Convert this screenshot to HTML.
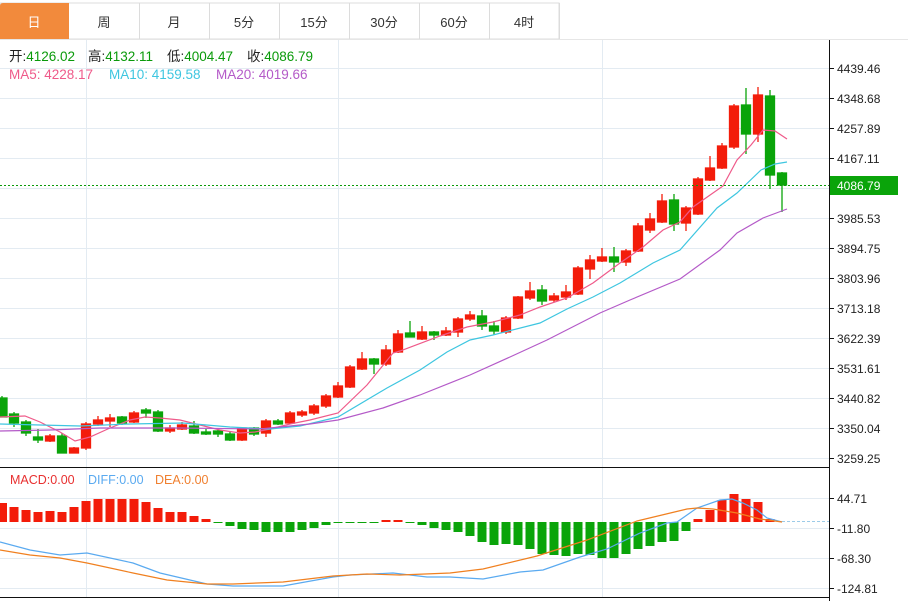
<!DOCTYPE html>
<html><head><meta charset="utf-8"><style>
html,body{margin:0;padding:0;background:#fff;width:908px;height:601px;overflow:hidden;font-family:"Liberation Sans","Noto Sans CJK SC",sans-serif}
svg{display:block}
</style></head><body>
<svg width="908" height="601" viewBox="0 0 908 601" xmlns="http://www.w3.org/2000/svg" font-family="Liberation Sans, Noto Sans CJK SC, sans-serif">
<rect x="0" y="3" width="559" height="36" fill="#fff" stroke="#dcdcdc"/>
<path d="M3,3 H69 V39 H0 V6 Q0,3 3,3Z" fill="#f28a3c"/>
<g stroke="#dcdcdc"><line x1="139.5" y1="3" x2="139.5" y2="39"/><line x1="209.5" y1="3" x2="209.5" y2="39"/><line x1="279.5" y1="3" x2="279.5" y2="39"/><line x1="349.5" y1="3" x2="349.5" y2="39"/><line x1="419.5" y1="3" x2="419.5" y2="39"/><line x1="489.5" y1="3" x2="489.5" y2="39"/><line x1="559.5" y1="3" x2="559.5" y2="39"/></g>
<line x1="0" y1="39.5" x2="908" y2="39.5" stroke="#e6e6e6"/>
<g font-size="13" text-anchor="middle" fill="#333">
<text x="34" y="27" fill="#fff">日</text><text x="104" y="27">周</text><text x="174" y="27">月</text><text x="244" y="27">5分</text><text x="314" y="27">15分</text><text x="384" y="27">30分</text><text x="454" y="27">60分</text><text x="524" y="27">4时</text>
</g>
<g stroke="#e3ebf2" stroke-width="1">
<line x1="86.5" y1="40" x2="86.5" y2="598"/><line x1="338.5" y1="40" x2="338.5" y2="598"/><line x1="602.5" y1="40" x2="602.5" y2="598"/>
<line x1="0" y1="68.5" x2="829" y2="68.5"/><line x1="0" y1="98.5" x2="829" y2="98.5"/><line x1="0" y1="128.5" x2="829" y2="128.5"/><line x1="0" y1="158.5" x2="829" y2="158.5"/><line x1="0" y1="188.5" x2="829" y2="188.5"/><line x1="0" y1="218.5" x2="829" y2="218.5"/><line x1="0" y1="248.5" x2="829" y2="248.5"/><line x1="0" y1="278.5" x2="829" y2="278.5"/><line x1="0" y1="308.5" x2="829" y2="308.5"/><line x1="0" y1="338.5" x2="829" y2="338.5"/><line x1="0" y1="368.5" x2="829" y2="368.5"/><line x1="0" y1="398.5" x2="829" y2="398.5"/><line x1="0" y1="428.5" x2="829" y2="428.5"/><line x1="0" y1="458.5" x2="829" y2="458.5"/>
<line x1="0" y1="498.5" x2="829" y2="498.5"/><line x1="0" y1="528.5" x2="829" y2="528.5"/><line x1="0" y1="558.5" x2="829" y2="558.5"/><line x1="0" y1="588.5" x2="829" y2="588.5"/>
</g>
<g font-size="13.5">
<text x="9" y="61" fill="#222">开:<tspan fill="#0a9a0a">4126.02</tspan></text>
<text x="88" y="61" fill="#222">高:<tspan fill="#0a9a0a">4132.11</tspan></text>
<text x="167" y="61" fill="#222">低:<tspan fill="#0a9a0a">4004.47</tspan></text>
<text x="247" y="61" fill="#222">收:<tspan fill="#0a9a0a">4086.79</tspan></text>
<text x="9" y="79" fill="#ef5a8a">MA5: 4228.17</text>
<text x="109" y="79" fill="#3ec6e0">MA10: 4159.58</text>
<text x="216" y="79" fill="#b45ac8">MA20: 4019.66</text>
</g>
<g font-size="12.5">
<text x="10" y="484" fill="#e83030">MACD:0.00</text>
<text x="88" y="484" fill="#5aaaf0">DIFF:0.00</text>
<text x="155" y="484" fill="#f08030">DEA:0.00</text>
</g>
<g stroke-width="1.3">
<g stroke="#0aa40a" fill="#0aa40a">
<line x1="2" y1="396" x2="2" y2="417"/><rect x="-3" y="398" width="10" height="19"/>
<line x1="14" y1="412" x2="14" y2="427"/><rect x="9.5" y="414" width="9" height="9"/>
<line x1="26" y1="420" x2="26" y2="436"/><rect x="21.5" y="422" width="9" height="11"/>
<line x1="38" y1="429" x2="38" y2="443"/><rect x="33.5" y="437" width="9" height="3"/>
<line x1="62" y1="433" x2="62" y2="453"/><rect x="57.5" y="436" width="9" height="17"/>
<line x1="122" y1="416" x2="122" y2="425"/><rect x="117.5" y="417" width="9" height="6"/>
<line x1="146" y1="408" x2="146" y2="418"/><rect x="141.5" y="410" width="9" height="3"/>
<line x1="158" y1="410" x2="158" y2="432"/><rect x="153.5" y="412" width="9" height="19"/>
<line x1="194" y1="421" x2="194" y2="434"/><rect x="189.5" y="426" width="9" height="7"/>
<line x1="206" y1="429" x2="206" y2="435"/><rect x="201.5" y="432" width="9" height="2"/>
<line x1="218" y1="428" x2="218" y2="437"/><rect x="213.5" y="431" width="9" height="3"/>
<line x1="230" y1="432" x2="230" y2="441"/><rect x="225.5" y="434" width="9" height="6"/>
<line x1="254" y1="427" x2="254" y2="436"/><rect x="249.5" y="428" width="9" height="6"/>
<line x1="278" y1="419" x2="278" y2="425"/><rect x="273.5" y="421" width="9" height="3"/>
<line x1="374" y1="358" x2="374" y2="374"/><rect x="369.5" y="359" width="9" height="5"/>
<line x1="410" y1="321" x2="410" y2="337"/><rect x="405.5" y="333" width="9" height="4"/>
<line x1="434" y1="331" x2="434" y2="340"/><rect x="429.5" y="332" width="9" height="3"/>
<line x1="482" y1="310" x2="482" y2="330"/><rect x="477.5" y="316" width="9" height="10"/>
<line x1="494" y1="321" x2="494" y2="335"/><rect x="489.5" y="326" width="9" height="5"/>
<line x1="542" y1="285" x2="542" y2="305"/><rect x="537.5" y="290" width="9" height="11"/>
<line x1="614" y1="247" x2="614" y2="272"/><rect x="609.5" y="257" width="9" height="5"/>
<line x1="674" y1="194" x2="674" y2="231"/><rect x="669.5" y="200" width="9" height="24"/>
<line x1="746" y1="88" x2="746" y2="154"/><rect x="741.5" y="105" width="9" height="29"/>
<line x1="770" y1="90" x2="770" y2="189"/><rect x="765.5" y="96" width="9" height="79"/>
<line x1="782" y1="172" x2="782" y2="212"/><rect x="777.5" y="173" width="9" height="12"/>
</g>
<g stroke="#f31c0a" fill="#f31c0a">
<line x1="50" y1="434" x2="50" y2="442"/><rect x="45.5" y="436" width="9" height="5"/>
<line x1="74" y1="447" x2="74" y2="453"/><rect x="69.5" y="448" width="9" height="5"/>
<line x1="86" y1="422" x2="86" y2="450"/><rect x="81.5" y="424" width="9" height="24"/>
<line x1="98" y1="416" x2="98" y2="426"/><rect x="93.5" y="420" width="9" height="4"/>
<line x1="110" y1="414" x2="110" y2="427"/><rect x="105.5" y="418" width="9" height="3"/>
<line x1="134" y1="411" x2="134" y2="423"/><rect x="129.5" y="413" width="9" height="9"/>
<line x1="170" y1="425" x2="170" y2="433"/><rect x="165.5" y="428" width="9" height="3"/>
<line x1="182" y1="422" x2="182" y2="430"/><rect x="177.5" y="425" width="9" height="4"/>
<line x1="242" y1="427" x2="242" y2="441"/><rect x="237.5" y="428" width="9" height="12"/>
<line x1="266" y1="419" x2="266" y2="437"/><rect x="261.5" y="421" width="9" height="12"/>
<line x1="290" y1="411" x2="290" y2="424"/><rect x="285.5" y="413" width="9" height="10"/>
<line x1="302" y1="410" x2="302" y2="417"/><rect x="297.5" y="412" width="9" height="3"/>
<line x1="314" y1="404" x2="314" y2="415"/><rect x="309.5" y="406" width="9" height="7"/>
<line x1="326" y1="394" x2="326" y2="408"/><rect x="321.5" y="396" width="9" height="10"/>
<line x1="338" y1="382" x2="338" y2="398"/><rect x="333.5" y="386" width="9" height="11"/>
<line x1="350" y1="365" x2="350" y2="388"/><rect x="345.5" y="367" width="9" height="20"/>
<line x1="362" y1="352" x2="362" y2="370"/><rect x="357.5" y="359" width="9" height="10"/>
<line x1="386" y1="345" x2="386" y2="366"/><rect x="381.5" y="350" width="9" height="14"/>
<line x1="398" y1="330" x2="398" y2="353"/><rect x="393.5" y="334" width="9" height="18"/>
<line x1="422" y1="326" x2="422" y2="340"/><rect x="417.5" y="332" width="9" height="7"/>
<line x1="446" y1="327" x2="446" y2="336"/><rect x="441.5" y="331" width="9" height="4"/>
<line x1="458" y1="317" x2="458" y2="337"/><rect x="453.5" y="319" width="9" height="13"/>
<line x1="470" y1="311" x2="470" y2="321"/><rect x="465.5" y="315" width="9" height="4"/>
<line x1="506" y1="316" x2="506" y2="334"/><rect x="501.5" y="318" width="9" height="14"/>
<line x1="518" y1="296" x2="518" y2="319"/><rect x="513.5" y="297" width="9" height="21"/>
<line x1="530" y1="282" x2="530" y2="300"/><rect x="525.5" y="291" width="9" height="7"/>
<line x1="554" y1="293" x2="554" y2="302"/><rect x="549.5" y="296" width="9" height="4"/>
<line x1="566" y1="285" x2="566" y2="300"/><rect x="561.5" y="292" width="9" height="5"/>
<line x1="578" y1="266" x2="578" y2="295"/><rect x="573.5" y="268" width="9" height="26"/>
<line x1="590" y1="255" x2="590" y2="279"/><rect x="585.5" y="260" width="9" height="9"/>
<line x1="602" y1="248" x2="602" y2="262"/><rect x="597.5" y="257" width="9" height="4"/>
<line x1="626" y1="249" x2="626" y2="266"/><rect x="621.5" y="251" width="9" height="11"/>
<line x1="638" y1="223" x2="638" y2="252"/><rect x="633.5" y="226" width="9" height="25"/>
<line x1="650" y1="213" x2="650" y2="233"/><rect x="645.5" y="219" width="9" height="11"/>
<line x1="662" y1="194" x2="662" y2="223"/><rect x="657.5" y="201" width="9" height="21"/>
<line x1="686" y1="206" x2="686" y2="231"/><rect x="681.5" y="208" width="9" height="15"/>
<line x1="698" y1="177" x2="698" y2="215"/><rect x="693.5" y="179" width="9" height="35"/>
<line x1="710" y1="156" x2="710" y2="181"/><rect x="705.5" y="168" width="9" height="12"/>
<line x1="722" y1="143" x2="722" y2="169"/><rect x="717.5" y="146" width="9" height="22"/>
<line x1="734" y1="104" x2="734" y2="149"/><rect x="729.5" y="106" width="9" height="41"/>
<line x1="758" y1="87" x2="758" y2="142"/><rect x="753.5" y="95" width="9" height="39"/>
</g>
</g>
<g fill="none" stroke-width="1.2">
<polyline stroke="#ef5a8a" points="0,417 25,416 40,422 60,432 75,441 90,437 110,428 130,420 145,417 160,418 180,420 200,425 220,430 240,433 255,432 270,429 290,424 310,420 338,413 367,385 393,353 400,351 440,336 467,327 493,322 520,315 540,307 567,298 593,283 620,263 643,247 663,230 680,222 693,207 723,186 737,160 751,145 763,130 775,131 787,139"/>
<polyline stroke="#3ec6e0" points="0,424 40,425 80,426 130,424 183,423 230,427 270,429 300,426 338,417 387,388 420,370 447,352 470,340 493,335 540,323 567,309 593,297 620,283 653,263 680,250 717,208 737,193 761,170 775,164 787,162"/>
<polyline stroke="#b45ac8" points="0,431 50,430 100,428 180,428 260,429 310,424 338,420 383,408 420,395 470,375 510,357 547,340 600,313 630,300 680,279 720,250 737,233 763,218 787,209"/>
</g>
<line x1="0" y1="185.5" x2="829" y2="185.5" stroke="#0a9a0a" stroke-dasharray="2,2"/>
<g fill="#f31c0a">
<rect x="-3" y="503" width="10" height="19"/><rect x="9.5" y="507" width="9" height="15"/><rect x="21.5" y="510" width="9" height="12"/><rect x="33.5" y="512" width="9" height="10"/><rect x="45.5" y="511" width="9" height="11"/><rect x="57.5" y="512" width="9" height="10"/><rect x="69.5" y="507" width="9" height="15"/><rect x="81.5" y="501" width="9" height="21"/><rect x="93.5" y="499" width="9" height="23"/><rect x="105.5" y="499" width="9" height="23"/><rect x="117.5" y="499" width="9" height="23"/><rect x="129.5" y="499" width="9" height="23"/><rect x="141.5" y="502" width="9" height="20"/><rect x="153.5" y="508" width="9" height="14"/><rect x="165.5" y="512" width="9" height="10"/><rect x="177.5" y="512" width="9" height="10"/><rect x="189.5" y="516" width="9" height="6"/><rect x="201.5" y="519" width="9" height="3"/>
<rect x="381.5" y="520" width="9" height="2"/><rect x="393.5" y="520" width="9" height="2"/>
<rect x="693.5" y="519" width="9" height="3"/><rect x="705.5" y="510" width="9" height="12"/><rect x="717.5" y="500" width="9" height="22"/><rect x="729.5" y="494" width="9" height="28"/><rect x="741.5" y="499" width="9" height="23"/><rect x="753.5" y="502" width="9" height="20"/><rect x="765.5" y="519" width="9" height="3"/>
</g>
<g fill="#0aa40a">
<rect x="213.5" y="522" width="9" height="1"/><rect x="225.5" y="522" width="9" height="4"/><rect x="237.5" y="522" width="9" height="7"/><rect x="249.5" y="522" width="9" height="8"/><rect x="261.5" y="522" width="9" height="10"/><rect x="273.5" y="522" width="9" height="10"/><rect x="285.5" y="522" width="9" height="10"/><rect x="297.5" y="522" width="9" height="8"/><rect x="309.5" y="522" width="9" height="6"/><rect x="321.5" y="522" width="9" height="3"/><rect x="333.5" y="522" width="9" height="1"/><rect x="345.5" y="522" width="9" height="1"/><rect x="357.5" y="522" width="9" height="1"/><rect x="369.5" y="522" width="9" height="1"/><rect x="405.5" y="522" width="9" height="1"/>
<rect x="417.5" y="522" width="9" height="3"/><rect x="429.5" y="522" width="9" height="6"/><rect x="441.5" y="522" width="9" height="8"/><rect x="453.5" y="522" width="9" height="10"/><rect x="465.5" y="522" width="9" height="14"/><rect x="477.5" y="522" width="9" height="20"/><rect x="489.5" y="522" width="9" height="23"/><rect x="501.5" y="522" width="9" height="22"/><rect x="513.5" y="522" width="9" height="23"/><rect x="525.5" y="522" width="9" height="27"/><rect x="537.5" y="522" width="9" height="32"/><rect x="549.5" y="522" width="9" height="33"/><rect x="561.5" y="522" width="9" height="34"/><rect x="573.5" y="522" width="9" height="32"/><rect x="585.5" y="522" width="9" height="33"/><rect x="597.5" y="522" width="9" height="36"/><rect x="609.5" y="522" width="9" height="36"/><rect x="621.5" y="522" width="9" height="32"/><rect x="633.5" y="522" width="9" height="27"/><rect x="645.5" y="522" width="9" height="24"/><rect x="657.5" y="522" width="9" height="20"/><rect x="669.5" y="522" width="9" height="19"/><rect x="681.5" y="522" width="9" height="9"/>
</g>
<line x1="782" y1="521.5" x2="829" y2="521.5" stroke="#9ccbe8" stroke-dasharray="3,2"/>
<g fill="none" stroke-width="1.2">
<polyline stroke="#5aaaf0" points="0,542 30,550 60,555 87,553 133,563 160,573 207,584 233,586 283,586 333,577 350,575 393,573 427,577 450,577 483,579 520,572 543,570 580,557 607,549 640,533 667,523 677,522 697,508 720,500 732,499 743,503 757,510 767,518 782,522"/>
<polyline stroke="#f08020" points="0,550 30,555 60,558 87,563 133,573 167,580 207,584 233,584 283,582 333,576 367,574 400,575 450,573 483,569 537,556 587,540 637,521 687,509 697,508 713,509 737,513 760,519 782,522"/>
</g>
<line x1="0" y1="467.5" x2="829" y2="467.5" stroke="#111"/>
<line x1="0" y1="597.5" x2="829" y2="597.5" stroke="#111"/>
<line x1="829.5" y1="40" x2="829.5" y2="601" stroke="#111"/>
<g stroke="#111">
<line x1="829" y1="68.5" x2="834" y2="68.5"/><line x1="829" y1="98.5" x2="834" y2="98.5"/><line x1="829" y1="128.5" x2="834" y2="128.5"/><line x1="829" y1="158.5" x2="834" y2="158.5"/><line x1="829" y1="218.5" x2="834" y2="218.5"/><line x1="829" y1="248.5" x2="834" y2="248.5"/><line x1="829" y1="278.5" x2="834" y2="278.5"/><line x1="829" y1="308.5" x2="834" y2="308.5"/><line x1="829" y1="338.5" x2="834" y2="338.5"/><line x1="829" y1="368.5" x2="834" y2="368.5"/><line x1="829" y1="398.5" x2="834" y2="398.5"/><line x1="829" y1="428.5" x2="834" y2="428.5"/><line x1="829" y1="458.5" x2="834" y2="458.5"/>
<line x1="829" y1="498.5" x2="834" y2="498.5"/><line x1="829" y1="528.5" x2="834" y2="528.5"/><line x1="829" y1="558.5" x2="834" y2="558.5"/><line x1="829" y1="588.5" x2="834" y2="588.5"/>
</g>
<g font-size="12" fill="#222">
<text x="837" y="73">4439.46</text><text x="837" y="103">4348.68</text><text x="837" y="133">4257.89</text><text x="837" y="163">4167.11</text><text x="837" y="223">3985.53</text><text x="837" y="253">3894.75</text><text x="837" y="283">3803.96</text><text x="837" y="313">3713.18</text><text x="837" y="343">3622.39</text><text x="837" y="373">3531.61</text><text x="837" y="403">3440.82</text><text x="837" y="433">3350.04</text><text x="837" y="463">3259.25</text>
<text x="837" y="503">44.71</text><text x="837" y="533">-11.80</text><text x="837" y="563">-68.30</text><text x="837" y="593">-124.81</text>
</g>
<rect x="830" y="176" width="68" height="19" fill="#0aa40a"/>
<text x="837" y="190" font-size="12" fill="#fff">4086.79</text>
</svg>
</body></html>
